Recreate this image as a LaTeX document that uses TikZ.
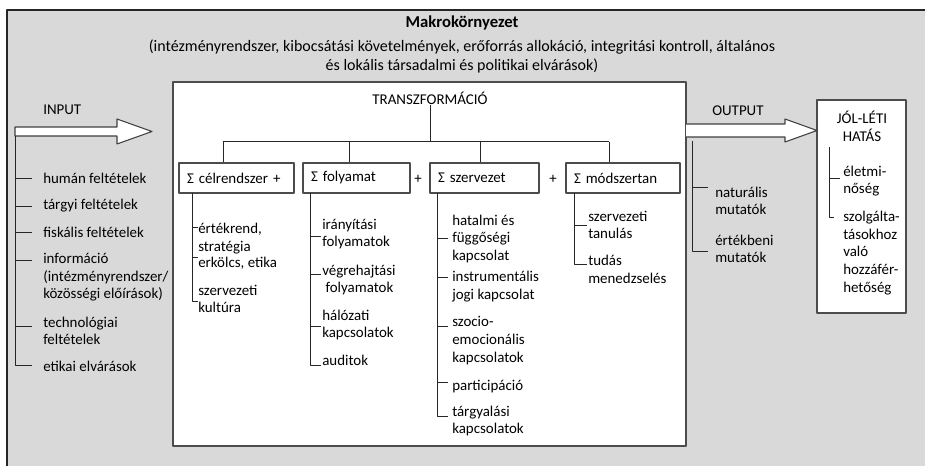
\documentclass[tikz,border=0pt]{standalone}
\usepackage{fontspec}
\setmainfont{Carlito}
\usetikzlibrary{positioning}

\begin{document}
\begin{tikzpicture}[line join=round,x=0.75pt,y=-0.75pt,
  every node/.style={font=\fontsize{11.2}{13.2}\selectfont,inner sep=0pt},
  item/.style={anchor=west,align=left},
  rule/.style={draw=black!85,line width=0.75pt},
  frame/.style={draw=black!70,line width=1.2pt},
  sumbox/.style={frame,line width=0.9pt,fill=white,minimum height=22.5pt,
    text width=#1,inner xsep=6pt,align=left},
  bigarrow/.style={draw=black!75,line width=0.8pt,fill=white}]
  \useasboundingbox (0,0) rectangle (925,466);
  \fill[black!15] (7,10) rectangle (925,466);
  \draw[black!85,line width=0.8pt] (7,466) |- (925,10);

  \node[font=\bfseries\fontsize{12.5}{15}\selectfont] (makro) at (462,23) {Makrokörnyezet};
  \node[align=center,font=\fontsize{12}{14.4}\selectfont] (makrotxt) at (462,56.5) {(intézményrendszer, kibocsátási követelmények, erőforrás allokáció, integritási kontroll, általános\\és lokális társadalmi és politikai elvárások)};

  \draw[frame,fill=white] (173,82) rectangle (686,446);
  \draw[frame,fill=white] (817,100) rectangle (906,313);

  \draw[bigarrow] (15,127) -- (117,127) -- (117,119) -- (152,131.5) -- (117,144) -- (117,136) -- (15,136) -- cycle;
  \draw[bigarrow] (686,124) -- (785,124) -- (785,119) -- (817,130.5) -- (785,142) -- (785,137) -- (686,137);
  \node[anchor=west] (input) at (43,110) {INPUT};
  \node[anchor=west] (output) at (712,111) {OUTPUT};

  \node (trans) at (430,98) {TRANSZFORMÁCIÓ};
  \draw[rule] (trans.south) -- (430,142);
  \draw[rule] (223,142) -- (609,142);
  \foreach \x in {223,349,480,609}
  \draw[rule] (\x,142) -- (\x,163);

  \node[sumbox=74.25pt] (celbox) at (236.5,178) {Σ célrendszer +};
  \node[sumbox=68.25pt] (folbox) at (356.5,178) {Σ folyamat};
  \node[sumbox=69.75pt] (szbox) at (484.5,178) {Σ szervezet};
  \node[sumbox=73.5pt] (modbox) at (623,178) {Σ módszertan};
  \node (plus1) at (418,179) {+};
  \node (plus2) at (553,179) {+};

  \node[item] (inp1) at (43,178) {humán feltételek};
  \node[item] (inp2) at (43,206) {tárgyi feltételek};
  \node[item] (inp3) at (43,232) {fiskális feltételek};
  \node[item] (inp4) at (43,277.5) {információ\\(intézményrendszer/\\közösségi előírások)};
  \node[item] (inp5) at (43,331) {technológiai\\feltételek};
  \node[item] (inp6) at (43,366) {etikai elvárások};
  \draw[rule] (15,136) |- (32,366);
  \foreach \y in {179,207,233,261,327}
  \draw[rule] (15,\y) -- ++(17,0);

  \node[item] (cel1) at (198,238.5) {értékrend,\\stratégia};
  \node[item] (cel2) at (198,263) {erkölcs, etika};
  \node[item] (cel3) at (198,299) {szervezeti\\kultúra};
  \draw[rule] (192,193) |- (198,302);
  \foreach \y in {228,258}
  \draw[rule] (192,\y) -- ++(6,0);

  \node[item] (fol1) at (322,234) {irányítási\\folyamatok};
  \node[item] (fol2) at (322,280) {végrehajtási\\\hspace{2.5pt}folyamatok};
  \node[item] (fol3) at (322,325) {hálózati\\kapcsolatok};
  \node[item] (fol4) at (322,360) {auditok};
  \draw[rule] (310,193) |- (321,366);
  \foreach \y in {237,275,327}
  \draw[rule] (310,\y) -- ++(11,0);

  \node[item] (sz1) at (452,239) {hatalmi és\\függőségi\\kapcsolat};
  \node[item] (sz2) at (452,286.5) {instrumentális\\jogi kapcsolat};
  \node[item] (sz3) at (452,340.5) {szocio-\\emocionális\\kapcsolatok};
  \node[item] (sz4) at (452,387) {participáció};
  \node[item] (sz5) at (452,421) {tárgyalási\\kapcsolatok};
  \draw[rule] (437,193) |- (448,417);
  \foreach \y in {239,278,327,383}
  \draw[rule] (437,\y) -- ++(11,0);

  \node[item] (mod1) at (588,225) {szervezeti\\tanulás};
  \node[item] (mod2) at (588,269.5) {tudás\\menedzselés};
  \draw[rule] (574,193) |- (587,265);
  \draw[rule] (574,226) -- ++(13,0);

  \node[item] (out1) at (715,201) {naturális\\mutatók};
  \node[item] (out2) at (715,249) {értékbeni\\mutatók};
  \draw[rule] (692,141) |- (708,252);
  \draw[rule] (692,188) -- ++(16,0);

  \node[align=center] (jolleti) at (862,126.5) {JÓL-LÉTI\\HATÁS};
  \node[item] (jol1) at (843,181) {életmi-\\nőség};
  \node[item] (jol2) at (843,253) {szolgálta-\\tásokhoz\\való\\hozzáfér-\\hetőség};
  \draw[rule] (829,147) |- (834,218);
  \draw[rule] (829,179) -- ++(11,0);
\end{tikzpicture}
\end{document}
